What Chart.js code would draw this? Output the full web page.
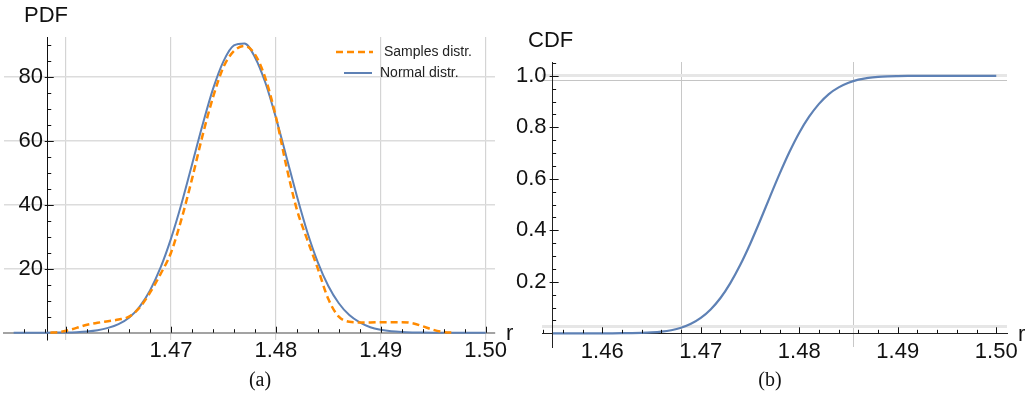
<!DOCTYPE html>
<html>
<head>
<meta charset="utf-8">
<script src="https://cdn.jsdelivr.net/npm/chart.js@4.4.1/dist/chart.umd.min.js"></script>
<style>
    body { margin: 0; background: #fff; width: 1031px; height: 395px; position: relative; overflow: hidden; }
    canvas { position: absolute; top: 0; }
    #pdfChart { left: 0; }
    #cdfChart { left: 510px; }
    .caption { position: absolute; top: 368px; line-height: 20px; font: 20px "Liberation Serif", serif; color: #111; transform: translateX(-50%); }
</style>
</head>
<body>
<canvas id="pdfChart" width="520" height="395"></canvas>
<canvas id="cdfChart" width="521" height="395"></canvas>
<div class="caption" style="left: 260px">(a)</div>
<div class="caption" style="left: 770px">(b)</div>

<script>
// r grid shared by the normal curves
const rValues = [1.455, 1.456, 1.457, 1.458, 1.459, 1.460, 1.461, 1.462, 1.463, 1.464,
                 1.465, 1.466, 1.467, 1.468, 1.469, 1.470, 1.471, 1.472, 1.473, 1.474,
                 1.475, 1.476, 1.477, 1.478, 1.479, 1.480, 1.481, 1.482, 1.483, 1.484,
                 1.485, 1.486, 1.487, 1.488, 1.489, 1.490, 1.491, 1.492, 1.493, 1.494,
                 1.495, 1.496, 1.497, 1.498, 1.499, 1.500];

const pdfNormal = [0, 0, 0, 0.01, 0.03, 0.07, 0.17, 0.37, 0.76, 1.5,
                   2.7, 4.7, 8.1, 13.2, 20.3, 29.4, 40.3, 52.5, 64.8, 76.1,
                   84.8, 89.8, 90.4, 86.1, 78.1, 67.2, 55.0, 42.7, 31.4, 22.0,
                   14.6, 9.2, 5.5, 3.2, 1.7, 0.9, 0.43, 0.2, 0.09, 0.04,
                   0.01, 0, 0, 0, 0, 0];

const sampleR = [1.4585, 1.459, 1.460, 1.461, 1.462, 1.463, 1.464, 1.465, 1.466, 1.467,
                 1.468, 1.469, 1.470, 1.471, 1.472, 1.473, 1.474, 1.475, 1.476, 1.477,
                 1.478, 1.479, 1.480, 1.481, 1.482, 1.483, 1.484, 1.485, 1.486, 1.487,
                 1.488, 1.489, 1.490, 1.491, 1.492, 1.493, 1.494, 1.495, 1.496, 1.497];

const pdfSamples = [0, 0.1, 0.6, 1.5, 2.5, 3.1, 3.6, 4.1, 5.0, 7.8,
                    12.5, 18.3, 25.0, 35.5, 48.0, 61.5, 73.5, 83.0, 88.0, 89.6,
                    87.0, 79.5, 67.5, 52.0, 38.5, 29.0, 20.0, 10.5, 5.0, 3.4,
                    3.2, 3.2, 3.3, 3.3, 3.3, 3.0, 2.0, 0.9, 0.2, 0];

const cdfNormal = [0, 0, 0, 0, 0, 0.0001, 0.0001, 0.0003, 0.0007, 0.0016,
                   0.0033, 0.0064, 0.012, 0.0215, 0.0367, 0.0596, 0.0925, 0.137, 0.195, 0.265,
                   0.346, 0.435, 0.528, 0.619, 0.704, 0.779, 0.841, 0.891, 0.929, 0.955,
                   0.973, 0.985, 0.992, 0.996, 0.998, 0.999, 0.9996, 0.9998, 0.9999, 1,
                   1, 1, 1, 1, 1, 1];

// ticks and labels
const rTicks = [1.46, 1.47, 1.48, 1.49, 1.50];
const pdfRLabels = ["", "1.47", "1.48", "1.49", "1.50"];
const cdfRLabels = ["1.46", "1.47", "1.48", "1.49", "1.50"];
const pdfTicks = [20, 40, 60, 80];
const pdfLabels = ["20", "40", "60", "80"];
const cdfTicks = [0.2, 0.4, 0.6, 0.8, 1.0];
const cdfLabels = ["0.2", "0.4", "0.6", "0.8", "1.0"];

// extra grid lines of the CDF panel
const cdfGridR = [1.468, 1.4855];
const cdfGridP = [0.025, 0.98, 1.0];

const BLUE = "#5e81b5";
const ORANGE = "#ff8a00";
const FONT = "'Liberation Sans', Arial, sans-serif";

Chart.defaults.font.family = FONT;
Chart.defaults.color = "#111";

const toPoints = (xs, ys) => xs.map((x, i) => ({ x: x, y: ys[i] }));
const setTicks = values => scale => { scale.ticks = values.map(v => ({ value: v })); };
const noWidth = scale => { scale.width = 0; };
const noHeight = scale => { scale.height = 0; };

// Mathematica-like inward ticks, axis names and the line legend
const mathAxes = {
    id: "mathAxes",
    afterDraw(chart, args, o)
    {
        const ctx = chart.ctx;
        const xs = chart.scales.x;
        const ys = chart.scales.y;
        const ax = xs.getPixelForValue(o.yAxisAt);
        const ay = ys.getPixelForValue(0);
        const near = (a, b) => Math.abs(a - b) < 1e-9;

        ctx.save();
        ctx.strokeStyle = "#111";
        ctx.lineWidth = 1;
        ctx.beginPath();

        for (let k = Math.ceil(xs.min / o.xMinor); k * o.xMinor <= xs.max + 1e-9; k++) {
            const v = k * o.xMinor;
            const major = rTicks.some(m => near(m, v));
            const px = Math.round(xs.getPixelForValue(v)) + 0.5;
            ctx.moveTo(px, ay);
            ctx.lineTo(px, ay - (major ? 6 : 3.5));
        }

        for (let k = 1; k * o.yMinor <= ys.max + 1e-9; k++) {
            const v = k * o.yMinor;
            const major = o.yMajor.some(m => near(m, v));
            const py = Math.round(ys.getPixelForValue(v)) + 0.5;
            ctx.moveTo(ax - (major ? 3 : 0), py);
            ctx.lineTo(ax + (major ? 6 : 3.5), py);
        }
        ctx.stroke();

        ctx.fillStyle = "#111";
        ctx.font = "22px " + FONT;
        ctx.textBaseline = "middle";
        ctx.textAlign = "left";
        ctx.fillText(o.yTitle[0], o.yTitle[1], o.yTitle[2]);
        ctx.textBaseline = "alphabetic";
        ctx.fillText("r", o.xTitle[0], o.xTitle[1]);

        (o.legend || []).forEach((item, i) => {
            const ds = chart.data.datasets[i];
            ctx.strokeStyle = ds.borderColor;
            ctx.lineWidth = ds.borderWidth;
            ctx.setLineDash(ds.borderDash || []);
            ctx.beginPath();
            ctx.moveTo(item[0], item[2]);
            ctx.lineTo(item[1], item[2]);
            ctx.stroke();
            ctx.setLineDash([]);
            ctx.fillStyle = "#222";
            ctx.font = "14px " + FONT;
            ctx.textBaseline = "middle";
            ctx.fillText(ds.label, item[3], item[2]);
        });
        ctx.restore();
    }
};

const tickFont = { size: 22, family: FONT };

new Chart(document.getElementById("pdfChart"), {
    type: "line",
    data: {
        datasets: [{
            label: "Samples distr.",
            data: toPoints(sampleR, pdfSamples),
            borderColor: ORANGE,
            borderWidth: 2.5,
            borderDash: [7, 4]
        }, {
            label: "Normal distr.",
            data: toPoints(rValues, pdfNormal),
            borderColor: BLUE,
            borderWidth: 2
        }]
    },
    options: {
        responsive: false,
        animation: false,
        layout: { padding: { left: 4, top: 37, right: 25, bottom: 55 } },
        elements: {
            point: { radius: 0 },
            line: { cubicInterpolationMode: "monotone", fill: false }
        },
        plugins: {
            legend: { display: false },
            tooltip: { enabled: false },
            mathAxes: {
                yAxisAt: 1.45825,
                xMinor: 0.002,
                yMinor: 5,
                yMajor: pdfTicks,
                yTitle: ["PDF", 24, 16],
                xTitle: [506, 340],
                legend: [[336, 373, 52, 384], [344, 372, 73, 380]]
            }
        },
        scales: {
            x: {
                type: "linear",
                min: 1.45408,
                max: 1.50089,
                position: { y: 0 },
                afterBuildTicks: setTicks(rTicks),
                afterFit: noHeight,
                ticks: { callback: (v, i) => pdfRLabels[i], font: tickFont, padding: 5, autoSkip: false, maxRotation: 0 },
                grid: { color: "#d4d4d4", lineWidth: 1.2, drawTicks: false },
                border: { color: "#a3a3a3", width: 2 }
            },
            y: {
                type: "linear",
                min: -2.28,
                max: 92.4,
                position: { x: 1.45825 },
                afterBuildTicks: setTicks(pdfTicks),
                afterFit: noWidth,
                ticks: { display: false },
                grid: { color: "#dcdcdc", lineWidth: 1.5, drawTicks: false },
                border: { color: "#111", width: 1 }
            },
            // tick labels of the y axis, set just left of the axis line
            yLabel: {
                type: "linear",
                min: -2.28,
                max: 92.4,
                position: "left",
                afterBuildTicks: setTicks(pdfTicks),
                afterFit: noWidth,
                ticks: { callback: (v, i) => pdfLabels[i], font: tickFont, mirror: true, padding: 14.5 },
                grid: { display: false, drawTicks: false },
                border: { display: false }
            }
        }
    },
    plugins: [mathAxes]
});

new Chart(document.getElementById("cdfChart"), {
    type: "line",
    data: {
        datasets: [{
            label: "CDF",
            data: toPoints(rValues, cdfNormal),
            borderColor: BLUE,
            borderWidth: 2.2
        }]
    },
    options: {
        responsive: false,
        animation: false,
        layout: { padding: { left: 32, top: 62, right: 24, bottom: 48 } },
        elements: {
            point: { radius: 0 },
            line: { cubicInterpolationMode: "monotone", fill: false }
        },
        plugins: {
            legend: { display: false },
            tooltip: { enabled: false },
            mathAxes: {
                yAxisAt: 1.45496,
                xMinor: 0.002,
                yMinor: 0.05,
                yMajor: cdfTicks,
                yTitle: ["CDF", 18, 41],
                xTitle: [508, 341]
            }
        },
        scales: {
            x2: {
                type: "linear",
                min: 1.45388,
                max: 1.50109,
                position: "bottom",
                afterBuildTicks: setTicks(cdfGridR),
                afterFit: noHeight,
                ticks: { display: false },
                grid: { color: "#c8c8c8", lineWidth: 1, drawTicks: false },
                border: { display: false }
            },
            y2: {
                type: "linear",
                min: -0.0532,
                max: 1.0536,
                position: "left",
                afterBuildTicks: setTicks(cdfGridP),
                afterFit: noWidth,
                ticks: { display: false },
                grid: {
                    color: c => c.tick && c.tick.value === 0.98 ? "#c4c4c4" : "#e6e6e6",
                    lineWidth: c => c.tick && c.tick.value === 0.98 ? 1 : 3,
                    drawTicks: false
                },
                border: { display: false }
            },
            x: {
                type: "linear",
                min: 1.45388,
                max: 1.50109,
                position: { y: 0 },
                afterBuildTicks: setTicks(rTicks),
                afterFit: noHeight,
                ticks: { callback: (v, i) => cdfRLabels[i], font: tickFont, padding: 5, autoSkip: false, maxRotation: 0 },
                grid: { display: false, drawTicks: false },
                border: { color: "#222", width: 1 }
            },
            y: {
                type: "linear",
                min: -0.0532,
                max: 1.0536,
                position: { x: 1.45496 },
                afterBuildTicks: setTicks(cdfTicks),
                afterFit: noWidth,
                ticks: { display: false },
                grid: { display: false, drawTicks: false },
                border: { color: "#222", width: 1 }
            },
            yLabel: {
                type: "linear",
                min: -0.0532,
                max: 1.0536,
                position: "left",
                afterBuildTicks: setTicks(cdfTicks),
                afterFit: noWidth,
                ticks: { callback: (v, i) => cdfLabels[i], font: tickFont, mirror: true, padding: -26 },
                grid: { display: false, drawTicks: false },
                border: { display: false }
            }
        }
    },
    plugins: [mathAxes]
});
</script>
</body>
</html>
